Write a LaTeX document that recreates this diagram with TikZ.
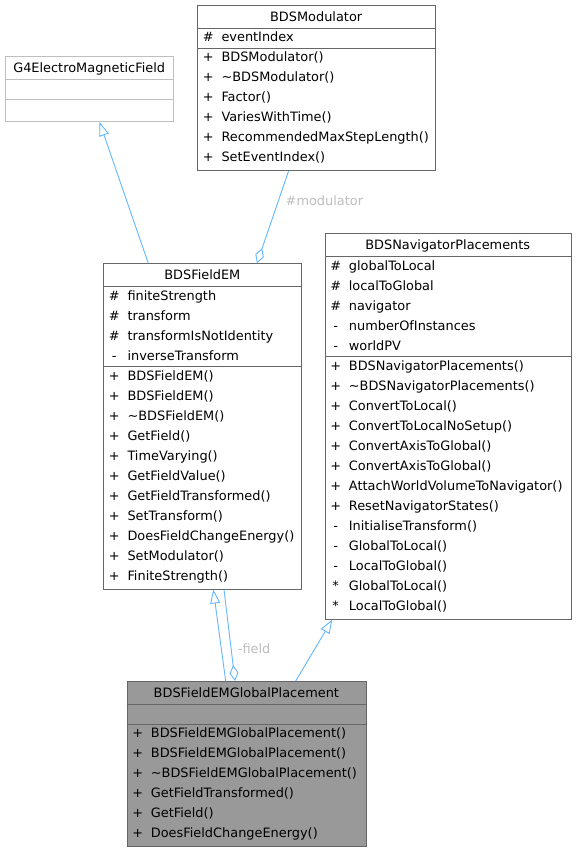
\documentclass[tikz,border=0pt]{standalone}
\usepackage{fontspec}
\setmainfont{DejaVu Sans}
\usetikzlibrary{arrows.meta,calc}
\definecolor{edgeblue}{HTML}{63B8FF}
\definecolor{boxgray}{HTML}{666666}
\definecolor{lightbox}{HTML}{BFBFBF}
\definecolor{fillgray}{HTML}{999999}
\definecolor{labelgray}{HTML}{BEBEBE}
\newcommand\dfs{\fontsize{12.9}{15}\selectfont}
\tikzset{
  classbox/.style={draw=boxgray, line width=0.9pt, inner sep=0pt, anchor=north west, fill=white},
  sepline/.style={draw=boxgray, line width=0.9pt},
  titletext/.style={inner sep=0pt, anchor=base, font=\dfs},
  symtext/.style={inner sep=0pt, anchor=base, font=\dfs},
  rowtext/.style={inner sep=0pt, anchor=base west, font=\dfs},
  edgelabel/.style={inner sep=0pt, anchor=west, font=\dfs, text=labelgray},
  inherit/.style={draw=edgeblue, line width=0.9pt, -{Triangle[open,length=14pt,width=10pt]}},
  aggreg/.style={draw=edgeblue, line width=0.9pt, -{Diamond[open,length=16pt,width=9pt]}},
}
% #1 name, #2 x, #3 y, #4 width, #5 attr rows, #6 method rows, #7 extra style, #8 title
\newcommand\umlclass[8]{%
  \pgfmathsetmacro\hh{23.3+20*#5+20*#6+2}%
  \node[classbox,#7,minimum width=#4pt,minimum height=\hh pt] (#1) at (#2,#3) {};
  \draw[sepline,#7] ($(#1.north west)+(0,23.3)$) -- ($(#1.north east)+(0,23.3)$);
  \draw[sepline,#7] ($(#1.north west)+(0,23.3+20*#5)$) -- ($(#1.north east)+(0,23.3+20*#5)$);
  \node[titletext] (#1-title) at ($(#1.north west)+(#4/2,16.5)$) {#8};
}
% #1 box, #2 section top offset, #3 tag, #4 list
\newcommand\members[4]{%
  \foreach \s/\t [count=\i] in {#4} {
    \node[symtext] (#1-#3s\i) at ($(#1.north west)+(11,#2+13.5+20*\i-20)$) {\s};
    \node[rowtext] (#1-#3\i) at ($(#1.north west)+(24,#2+13.5+20*\i-20)$) {\t};
  }%
}
\begin{document}
\begin{tikzpicture}[x=1pt,y=-1pt]
\fill[white] (0,0) rectangle (576,852);
\useasboundingbox (0,0) rectangle (576,852);

% G4ElectroMagneticField
\umlclass{g4}{5}{55.7}{168.3}{1}{1}{draw=lightbox}{G4ElectroMagneticField}

% BDSModulator
\umlclass{mod}{197.3}{5}{237.7}{1}{6}{}{BDSModulator}
\members{mod}{23.3}{a}{\#/eventIndex}
\members{mod}{43.3}{m}{+/BDSModulator(), +/\textasciitilde BDSModulator(), +/Factor(), +/VariesWithTime(), +/RecommendedMaxStepLength(), +/SetEventIndex()}

% BDSFieldEM
\umlclass{fem}{103.3}{263.3}{198}{4}{11}{}{BDSFieldEM}
\members{fem}{23.3}{a}{\#/finiteStrength, \#/transform, \#/transformIsNotIdentity, -/inverseTransform}
\members{fem}{103.3}{m}{+/BDSFieldEM(), +/BDSFieldEM(), +/\textasciitilde BDSFieldEM(), +/GetField(), +/TimeVarying(), +/GetFieldValue(), +/GetFieldTransformed(), +/SetTransform(), +/DoesFieldChangeEnergy(), +/SetModulator(), +/FiniteStrength()}

% BDSNavigatorPlacements
\umlclass{nav}{324.7}{233.3}{246}{5}{13}{}{BDSNavigatorPlacements}
\members{nav}{23.3}{a}{\#/globalToLocal, \#/localToGlobal, \#/navigator, -/numberOfInstances, -/worldPV}
\members{nav}{123.3}{m}{+/BDSNavigatorPlacements(), +/\textasciitilde BDSNavigatorPlacements(), +/ConvertToLocal(), +/ConvertToLocalNoSetup(), +/ConvertAxisToGlobal(), +/ConvertAxisToGlobal(), +/AttachWorldVolumeToNavigator(), +/ResetNavigatorStates(), -/InitialiseTransform(), -/GlobalToLocal(), -/LocalToGlobal(), */GlobalToLocal(), */LocalToGlobal()}

% BDSFieldEMGlobalPlacement
\umlclass{gp}{126.7}{681}{239.3}{1}{6}{fill=fillgray}{BDSFieldEMGlobalPlacement}
\members{gp}{43.3}{m}{+/BDSFieldEMGlobalPlacement(), +/BDSFieldEMGlobalPlacement(), +/\textasciitilde BDSFieldEMGlobalPlacement(), +/GetFieldTransformed(), +/GetField(), +/DoesFieldChangeEnergy()}

% connectors
\coordinate (e1a) at ($(fem.north west)+(45,0)$);
\coordinate (e1b) at ($(g4.south west)+(94.5,0)$);
\draw[inherit] (e1a) -- (e1b);

\coordinate (e2a) at ($(mod.south west)+(91.2,0)$);
\coordinate (e2b) at ($(fem.north west)+(153.7,0)$);
\draw[aggreg] (e2a) -- (e2b);
\node[edgelabel] (lmod) at (285.5,200.7) {\#modulator};

\coordinate (e3a) at ($(gp.north west)+(99,0)$);
\coordinate (e3b) at ($(fem.south west)+(110,0)$);
\draw[inherit] (e3a) -- (e3b);

\coordinate (e4a) at ($(fem.south west)+(120.7,0)$);
\coordinate (e4b) at ($(gp.north west)+(108.3,0)$);
\draw[aggreg] (e4a) -- (e4b);
\node[edgelabel] (lfield) at (237.7,648.3) {-field};

\coordinate (e5a) at ($(gp.north west)+(169,0)$);
\coordinate (e5b) at ($(nav.south west)+(7.6,0)$);
\draw[inherit] (e5a) -- (e5b);
\end{tikzpicture}
\end{document}
